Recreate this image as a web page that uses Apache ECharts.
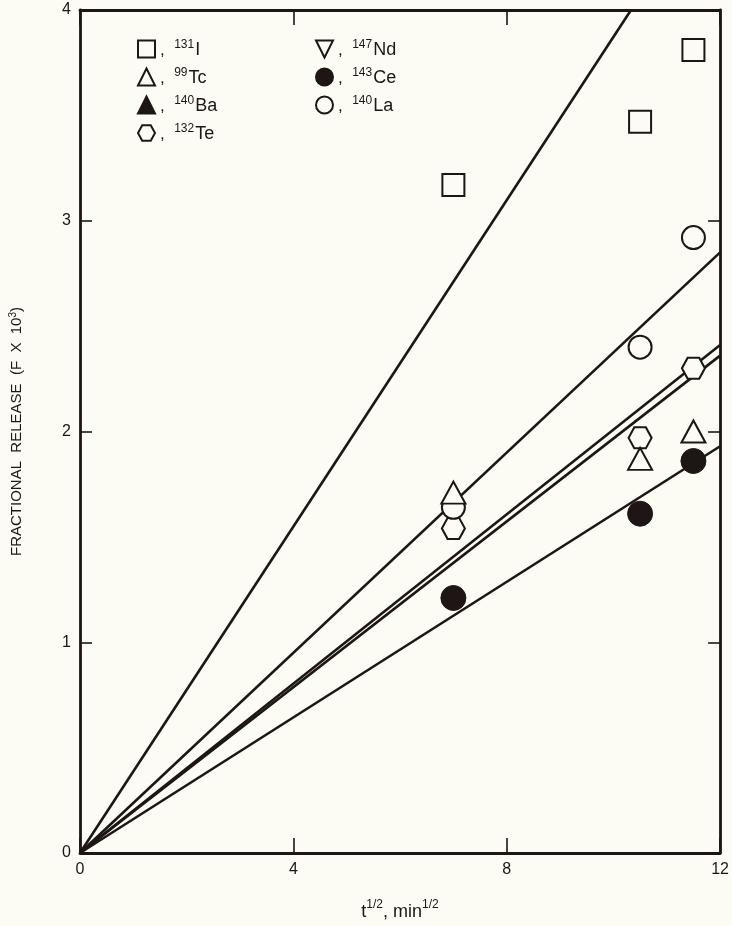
<!DOCTYPE html>
<html><head><meta charset="utf-8">
<script src="https://cdn.jsdelivr.net/npm/echarts@6/dist/echarts.min.js"></script>
<style>html,body{margin:0;padding:0;background:#fcfcf5}#c{width:732px;height:926px}</style>
</head><body><div id="c"></div>
<script>
// ---- data ----
const xValues = [7, 10.5, 11.5];                 // t^1/2, min^1/2
const iodine131 = [3.17, 3.47, 3.81];
const tc99 = [1.71, 1.87, 2.00];
const te132 = [1.54, 1.97, 2.30];
const ce143 = [1.21, 1.61, 1.86];
const la140 = [1.64, 2.40, 2.92];
const ba140 = [];
const nd147 = [];
// fitted lines, all through the origin: end points
const lineEndX = [10.33, 12, 12, 12, 12];
const lineEndY = [4.00, 2.85, 2.41, 2.36, 1.93];
const xTicks = [0, 4, 8, 12];
const yTicks = [0, 1, 2, 3, 4];

const INK = '#1e1515';
const BG = '#fcfcf5';
const FONT = '"Liberation Sans", Arial, sans-serif';

function pts(ys) { return ys.map((y, i) => [xValues[i], y]); }

const hexPath = 'path://M-1,0 L-0.5,-0.9 L0.5,-0.9 L1,0 L0.5,0.9 L-0.5,0.9 Z';
const downTri = 'path://M-1,-1 L1,-1 L0,1 Z';
const emptyStyle = { color: BG, borderColor: INK, borderWidth: 2, opacity: 1 };
const fullStyle = { color: INK, borderColor: INK, borderWidth: 1, opacity: 1 };

const labels = {
  'I131': ['131', 'I'], 'Tc99': ['99', 'Tc'], 'Ba140': ['140', 'Ba'], 'Te132': ['132', 'Te'],
  'Nd147': ['147', 'Nd'], 'Ce143': ['143', 'Ce'], 'La140': ['140', 'La']
};

const series = [];
lineEndX.forEach((ex, i) => {
  series.push({
    type: 'line', data: [[0, 0], [ex, lineEndY[i]]], symbol: 'none', silent: true,
    lineStyle: { color: INK, width: 2.6 }, z: 2, clip: true
  });
});
function sc(name, data, symbol, size, style) {
  series.push({
    name, type: 'scatter', data, symbol, symbolSize: size,
    itemStyle: style, z: 5
  });
}
// drawing order: hexagons under circles under triangles
sc('Te132', pts(te132), hexPath, [23, 21], emptyStyle);
sc('La140', pts(la140), 'circle', 23, emptyStyle);
sc('Tc99', pts(tc99), 'triangle', [24, 22], emptyStyle);
sc('I131', pts(iodine131), 'rect', 22, emptyStyle);
sc('Ba140', ba140, 'triangle', [24, 22], fullStyle);
sc('Nd147', nd147, downTri, [24, 22], emptyStyle);
sc('Ce143', pts(ce143), 'circle', 25, fullStyle);

const richLegend = {
  c: { fontSize: 17, fontFamily: FONT, color: INK, lineHeight: 20, verticalAlign: 'bottom' },
  s: { fontSize: 12, fontFamily: FONT, color: INK, lineHeight: 20, verticalAlign: 'top', padding: [0, 1, 8, 0] },
  t: { fontSize: 18, fontFamily: FONT, color: INK, lineHeight: 20, verticalAlign: 'bottom' }
};
function legendFmt(name) {
  const l = labels[name];
  return '{c|,  }{s|' + l[0] + '}{t|' + l[1] + '}';
}
const legendBase = {
  orient: 'vertical', itemWidth: 17, itemHeight: 17, itemGap: 8, padding: 0,
  formatter: legendFmt, selectedMode: false,
  textStyle: { rich: richLegend, color: INK, fontFamily: FONT }
};

const axisCommon = {
  axisLine: { show: true, onZero: false, lineStyle: { color: INK, width: 2.8 } },
  splitLine: { show: false },
  axisTick: { show: true, inside: true, lineStyle: { color: INK, width: 1.6 } },
  axisLabel: { color: INK, fontFamily: FONT, fontSize: 16 }
};

const chart = echarts.init(document.getElementById('c'));
chart.setOption({
  backgroundColor: BG,
  animation: false,
  grid: { left: 76, right: 10, top: 10, bottom: 71, containLabel: false },
  legend: [
    Object.assign({ left: 137, top: 39, data: ['I131', 'Tc99', 'Ba140', 'Te132'] }, legendBase),
    Object.assign({ left: 315, top: 39, data: ['Nd147', 'Ce143', 'La140'] }, legendBase)
  ],
  xAxis: [
    Object.assign({}, axisCommon, {
      type: 'value', min: xTicks[0], max: xTicks[xTicks.length - 1], interval: 4, position: 'bottom',
      axisTick: Object.assign({}, axisCommon.axisTick, { length: 15 }),
      axisLabel: Object.assign({}, axisCommon.axisLabel, { margin: 9 }),
      name: '{n|t}{s|1/2}{n|, min}{s|1/2}', nameLocation: 'middle', nameGap: 46,
      nameTextStyle: {
        rich: {
          n: { fontSize: 18, fontFamily: FONT, color: INK, lineHeight: 22, verticalAlign: 'bottom' },
          s: { fontSize: 12, fontFamily: FONT, color: INK, lineHeight: 22, verticalAlign: 'top', padding: [0, 0, 8, 0] }
        }
      }
    }),
    Object.assign({}, axisCommon, {
      type: 'value', min: xTicks[0], max: xTicks[xTicks.length - 1], interval: 4, position: 'top',
      axisTick: Object.assign({}, axisCommon.axisTick, { length: 15 }),
      axisLabel: { show: false }
    })
  ],
  yAxis: [
    Object.assign({}, axisCommon, {
      type: 'value', min: yTicks[0], max: yTicks[yTicks.length - 1], interval: 1, position: 'left',
      axisTick: Object.assign({}, axisCommon.axisTick, { length: 12 }),
      axisLabel: Object.assign({}, axisCommon.axisLabel, { margin: 9 }),
      name: 'FRACTIONAL  RELEASE  (F  X  10{s|3})', nameLocation: 'middle', nameGap: 55,
      nameRotate: 90,
      nameTextStyle: {
        fontSize: 15, fontFamily: FONT, color: INK,
        rich: {
          s: { fontSize: 10, fontFamily: FONT, color: INK, verticalAlign: 'top', padding: [0, 0, 7, 0] }
        }
      }
    }),
    Object.assign({}, axisCommon, {
      type: 'value', min: yTicks[0], max: yTicks[yTicks.length - 1], interval: 1, position: 'right',
      axisTick: Object.assign({}, axisCommon.axisTick, { length: 12 }),
      axisLabel: { show: false }
    })
  ],
  series
});
</script>
</body></html>
